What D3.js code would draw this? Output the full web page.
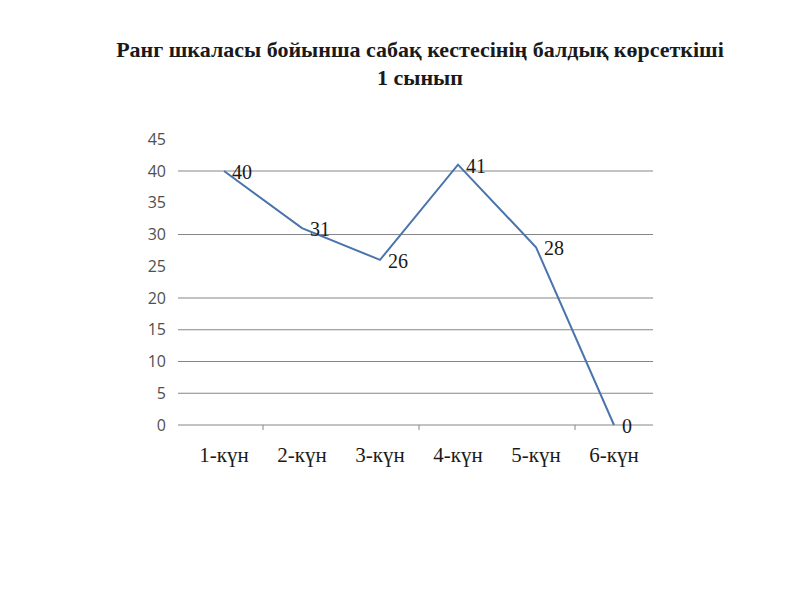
<!DOCTYPE html>
<html><head><meta charset="utf-8">
<script src="https://cdn.jsdelivr.net/npm/d3@7"></script>
<style>body{margin:0;background:#fff}</style>
</head><body>
<svg id="c" width="800" height="600"></svg>
<script>
const titleLines = ["Ранг шкаласы бойынша сабақ кестесінің балдық көрсеткіші", "1 сынып"];
const categories = ["1-күн","2-күн","3-күн","4-күн","5-күн","6-күн"];
const values = [40,31,26,41,28,0];
const yTicks = [0,5,10,15,20,25,30,35,40,45];
const gridValues = [0,5,10,15,20,30,40];

(function(){
const svg = d3.select("#c");
const pLeft = 185, pRight = 653, pTop = 139.25, pBottom = 425;
const x = d3.scaleBand().domain(categories).range([pLeft, pRight]);
const y = d3.scaleLinear().domain([0,45]).range([pBottom, pTop]);

// title
svg.append("g").selectAll("text").data(titleLines).join("text")
  .attr("x", 420).attr("y", (d,i)=>57+i*28)
  .attr("text-anchor","middle")
  .style("font-family","'Liberation Serif', 'Times New Roman', serif")
  .style("font-weight","bold").style("font-size","22px").style("fill","#1a1a1a")
  .text(d=>d);

// gridlines
svg.append("g").selectAll("line").data(gridValues).join("line")
  .attr("x1", 178).attr("x2", pRight)
  .attr("y1", d=>y(d)).attr("y2", d=>y(d))
  .attr("stroke","#868686").attr("stroke-width",1);

// y axis labels
const yAxis = d3.axisLeft(y).tickValues(yTicks).tickSize(0).tickPadding(12);
const yg = svg.append("g").attr("transform", `translate(${178},0)`).call(yAxis);
yg.select(".domain").remove();
yg.selectAll("text").style("font-family","'Open Sans', 'Liberation Sans', sans-serif")
  .style("font-size","16px").style("fill","#505050");

// x axis ticks (every other boundary)
const bounds = categories.map((c)=> x(c)).slice(1).filter((d,i)=> i%2===0);
svg.append("g").selectAll("line").data(bounds).join("line")
  .attr("x1", d=>d).attr("x2", d=>d).attr("y1", pBottom).attr("y2", pBottom+5)
  .attr("stroke","#868686");

// x labels
svg.append("g").selectAll("text").data(categories).join("text")
  .attr("x", d=> x(d)+x.bandwidth()/2).attr("y", 462)
  .attr("text-anchor","middle")
  .style("font-family","'Liberation Serif', 'Times New Roman', serif")
  .style("font-size","21px").style("fill","#1a1a1a")
  .text(d=>d);

// line
const line = d3.line().x((d,i)=> x(categories[i])+x.bandwidth()/2).y(d=>y(d));
svg.append("path").datum(values).attr("d", line)
  .attr("fill","none").attr("stroke","#4a74ac").attr("stroke-width",2);

// data labels
svg.append("g").selectAll("text").data(values).join("text")
  .attr("x", (d,i)=> x(categories[i])+x.bandwidth()/2+8)
  .attr("y", d=> y(d)+8)
  .style("font-family","'Liberation Serif', 'Times New Roman', serif")
  .style("font-size","20px").style("fill","#1a1a1a")
  .text(d=>d);
})();
</script>
</body></html>
